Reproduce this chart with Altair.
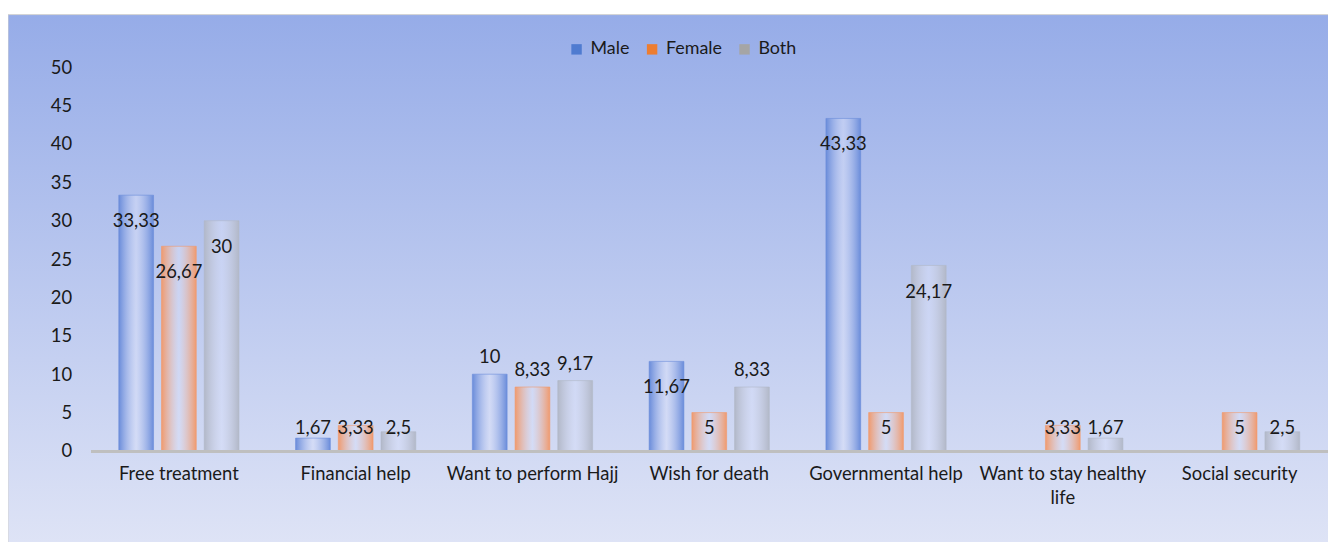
import altair as alt
import pandas as pd

categories = ["Free treatment", "Financial help", "Want to perform Hajj", "Wish for death",
              "Governmental help", "Want to stay healthy life", "Social security"]
series_names = ["Male", "Female", "Both"]
male = [33.33, 1.67, 10, 11.67, 43.33, 0, 0]
female = [26.67, 3.33, 8.33, 5, 5, 3.33, 5]
both = [30, 2.5, 9.17, 8.33, 24.17, 1.67, 2.5]
y_ticks = [0, 5, 10, 15, 20, 25, 30, 35, 40, 45, 50]

legend_colors = ["#4f7bd0", "#ed7d31", "#a5a5a5"]
edge_colors = ["#6a8cda", "#f09a6e", "#b2b8c8"]

rows = []
for s, vals in zip(series_names, [male, female, both]):
    for c, v in zip(categories, vals):
        rows.append({"category": c, "series": s, "value": v})
df = pd.DataFrame(rows)

FONT = "Lato"
W, H = 1245, 386
PAD = {"left": 83, "top": 58, "right": 0, "bottom": 90}

x_enc = alt.X("category:N", sort=categories,
              scale=alt.Scale(paddingInner=0.32, paddingOuter=0.16),
              axis=alt.Axis(title=None, labelAngle=0, labelFontSize=18.5, labelFont=FONT,
                            labelColor="#1a1a1a", labelPadding=14, ticks=False,
                            domainColor="#bfbfbf", domainWidth=3, zindex=1,
                            labelLimit=300, labelLineHeight=24, labelOverlap=False,
                            labelExpr="datum.label == 'Want to stay healthy life' ? ['Want to stay healthy', 'life'] : datum.label"))
xo_enc = alt.XOffset("series:N", sort=series_names,
                     scale=alt.Scale(domain=series_names, paddingInner=0.186, paddingOuter=0))
y_scale = alt.Scale(domain=[0, 50], nice=False)
y_axis = alt.Axis(title=None, values=y_ticks, grid=False, domain=False, ticks=False,
                  labelFontSize=18.5, labelFont=FONT, labelColor="#1a1a1a",
                  labelPadding=19, zindex=1, labelOverlap=False)

bg = alt.Chart(pd.DataFrame({"a": [0]})).mark_rect(
    fill=alt.Gradient(gradient="linear", x1=0, x2=0, y1=0, y2=1,
                      stops=[alt.GradientStop(color="#96ace8", offset=0),
                             alt.GradientStop(color="#dfe4f6", offset=1)]),
    stroke="#d4d4d4", strokeWidth=1
).encode(x=alt.value(-83), x2=alt.value(W + 5), y=alt.value(-53), y2=alt.value(H + 100))

layers = [bg]
for s, ec in zip(series_names, edge_colors):
    grad = alt.Gradient(gradient="linear", x1=0, x2=1, y1=0, y2=0,
                        stops=[alt.GradientStop(color=ec, offset=0),
                               alt.GradientStop(color="rgba(215,222,248,0.55)", offset=0.5),
                               alt.GradientStop(color=ec, offset=1)])
    layers.append(
        alt.Chart(df).transform_filter(
            (alt.datum.series == s) & (alt.datum.value > 0)
        ).mark_bar(fill=grad, stroke=ec, strokeWidth=1, strokeOpacity=0.6).encode(
            x=x_enc, xOffset=xo_enc,
            y=alt.Y("value:Q", scale=y_scale, axis=y_axis)
        )
    )

legend_layer = alt.Chart(df).mark_bar(opacity=0).encode(
    x=x_enc, xOffset=xo_enc,
    y=alt.Y("value:Q", scale=y_scale, axis=y_axis),
    color=alt.Color("series:N", sort=series_names,
                    scale=alt.Scale(domain=series_names, range=legend_colors),
                    legend=alt.Legend(title=None, orient="none", legendX=480, legendY=-27,
                                      direction="horizontal", symbolType="square",
                                      symbolSize=110, symbolOpacity=1, symbolStrokeWidth=0,
                                      labelFontSize=18, labelFont=FONT, labelColor="#1a1a1a",
                                      labelOffset=5, columnPadding=13))
)
layers.append(legend_layer)

labels = alt.Chart(df).transform_filter(alt.datum.value > 0).transform_calculate(
    label="replace(format(datum.value, '.2~f'), '.', ',')",
    ly="datum.value >= 11 ? datum.value - 3.4 : (datum.value >= 6 ? datum.value + 2.2 : 3)"
).mark_text(fontSize=18.5, font=FONT, color="#1a1a1a", baseline="middle").encode(
    x=x_enc, xOffset=xo_enc,
    y=alt.Y("ly:Q", scale=y_scale, axis=y_axis),
    text="label:N"
)
layers.append(labels)

chart = alt.layer(*layers).properties(
    width=W, height=H, padding=PAD,
    autosize=alt.AutoSizeParams(type="none")
).configure_view(stroke=None).configure(background="white")

chart.save("out.html", embed_options={"renderer": "svg", "actions": False})
